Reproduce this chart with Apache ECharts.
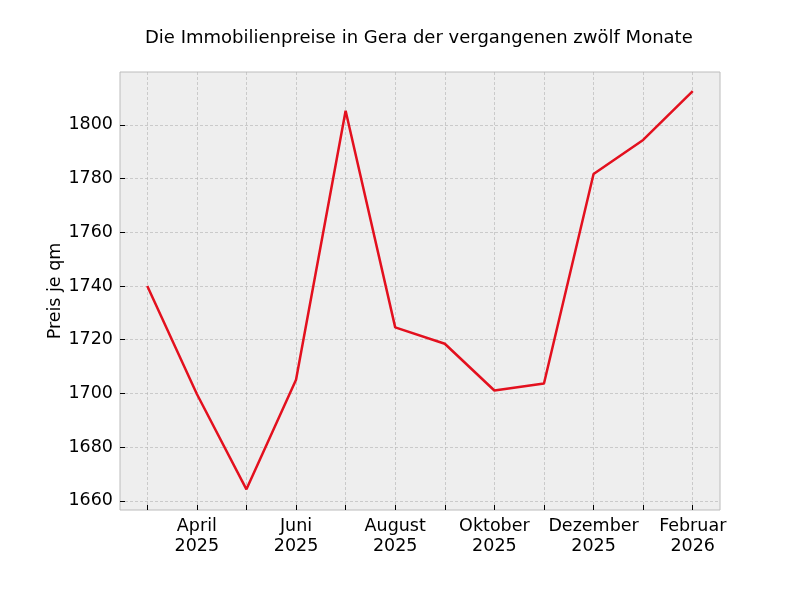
<!DOCTYPE html>
<html>
<head>
<meta charset="utf-8">
<script src="https://cdn.jsdelivr.net/npm/echarts@6/dist/echarts.min.js"></script>
<style>html,body{margin:0;padding:0;background:#fff}#c{width:800px;height:600px}</style>
</head>
<body>
<div id="c"></div>
<script>
const months = ['März\n2025','April\n2025','Mai\n2025','Juni\n2025','Juli\n2025','August\n2025','September\n2025','Oktober\n2025','November\n2025','Dezember\n2025','Januar\n2026','Februar\n2026'];
const prices = [1740.0, 1699.8, 1664.3, 1705.1, 1805.3, 1724.6, 1718.5, 1701.1, 1703.7, 1781.7, 1794.4, 1812.6];
const yTicks = [1660, 1680, 1700, 1720, 1740, 1760, 1780, 1800];
const labelIdx = [1, 3, 5, 7, 9, 11];

const font = 'DejaVu Sans';
const xMin = -0.55, xMax = months.length - 1 + 0.55;
const yMin = 1656.6, yMax = 1819.7;
const allIdx = months.map((m, i) => i);

const chart = echarts.init(document.getElementById('c'), null, {renderer: 'canvas'});
chart.setOption({
  animation: false,
  backgroundColor: '#ffffff',
  title: {
    text: 'Die Immobilienpreise in Gera der vergangenen zwölf Monate',
    left: 140, top: 24,
    textStyle: {fontFamily: font, fontSize: 18, fontWeight: 'normal', color: '#000'}
  },
  grid: {
    left: 120, top: 72, width: 600, height: 438,
    show: true, backgroundColor: '#eeeeee', borderColor: '#bcbcbc', borderWidth: 1,
    containLabel: false
  },
  xAxis: {
    type: 'value', min: xMin, max: xMax,
    axisLine: {show: false, onZero: false},
    axisTick: {show: true, inside: true, length: 5, lineStyle: {color: '#000', width: 1}, customValues: allIdx},
    axisLabel: {
      customValues: labelIdx, margin: 6, color: '#000',
      fontFamily: font, fontSize: 17.5, lineHeight: 20, align: 'center',
      formatter: v => months[Math.round(v)]
    },
    splitLine: {show: true, lineStyle: {color: '#b2b2b2', width: 0.6, type: [3, 2]}}
  },
  yAxis: {
    type: 'value', min: yMin, max: yMax,
    name: 'Preis je qm', nameLocation: 'middle', nameGap: 56, nameRotate: 90, nameMoveOverlap: false,
    nameTextStyle: {fontFamily: font, fontSize: 17.5, color: '#000'},
    axisLine: {show: false, onZero: false},
    axisTick: {show: true, inside: true, length: 5, lineStyle: {color: '#000', width: 1}, customValues: yTicks},
    axisLabel: {customValues: yTicks, margin: 7, color: '#000', fontFamily: font, fontSize: 17.5,
      formatter: v => String(Math.round(v))},
    splitLine: {show: true, lineStyle: {color: '#b2b2b2', width: 0.6, type: [3, 2]}}
  },
  series: [{
    type: 'line',
    data: prices.map((v, i) => [i, v]),
    showSymbol: false,
    lineStyle: {color: '#e3101e', width: 2.5},
    itemStyle: {color: '#e3101e'}
  }]
});
</script>
</body>
</html>
